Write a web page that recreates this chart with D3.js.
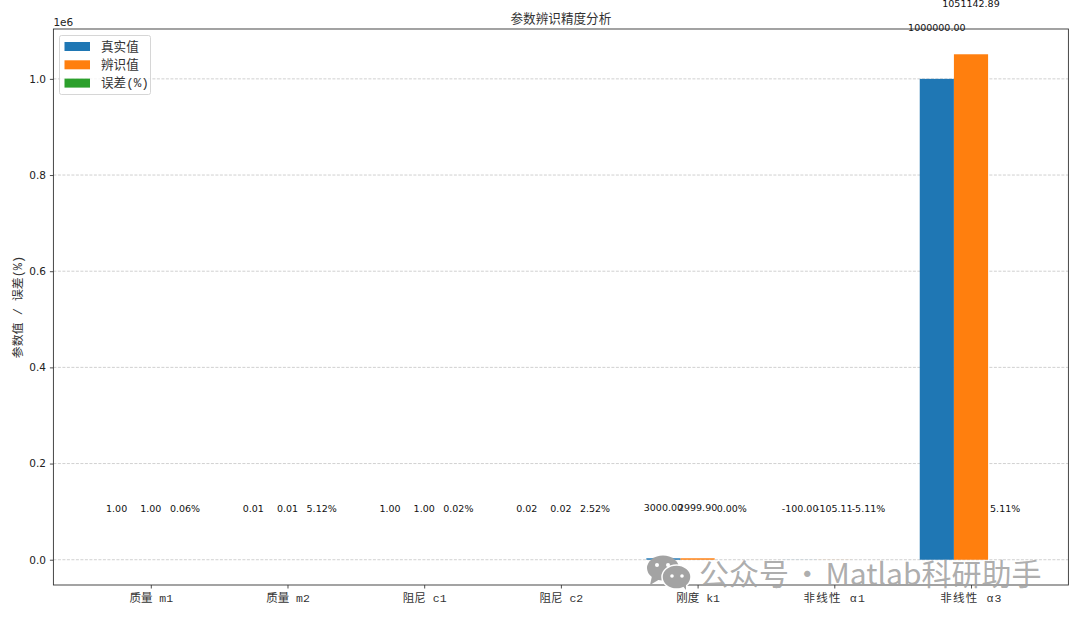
<!DOCTYPE html>
<html>
<head>
<meta charset="utf-8">
<style>
    html, body { margin: 0; padding: 0; background: #fff; overflow: hidden; }
    svg { display: block; }
    text { font-family: "DejaVu Sans", sans-serif; }
    .cjk { font-family: "Liberation Mono", "Noto Sans CJK SC", monospace; }
    .wm { font-family: "Noto Sans CJK SC", sans-serif; }
</style>
</head>
<body>
<svg id="container" width="1080" height="617"></svg>
<script src="https://d3js.org/d3.v7.min.js"></script>
<script>
const params = ["质量 m1", "质量 m2", "阻尼 c1", "阻尼 c2", "刚度 k1", "非线性 α1", "非线性 α3"]
const trueValues = [1.00, 0.01, 1.00, 0.02, 3000.00, -100.00, 1000000.00]
const estValues = [1.00, 0.01, 1.00, 0.02, 2999.90, -105.11, 1051142.89]
const errValues = [0.06, 5.12, 0.02, 2.52, 0.00, -5.11, 5.11]
const seriesNames = ["真实值", "辨识值", "误差(%)"]
const seriesColors = ["#1f77b4", "#ff7f0e", "#2ca02c"]
const yTicks = [0, 0.2e6, 0.4e6, 0.6e6, 0.8e6, 1.0e6]

const plotLeft = 53.4, plotRight = 1068.4, plotTop = 29, plotBottom = 585
const barWidth = 0.25
const maxValue = d3.max(estValues)

const svg = d3.select("#container")

let xScale = d3.scaleLinear().domain([-0.7125, 6.7125]).range([plotLeft, plotRight])
let yScale = d3.scaleLinear().domain([-0.05 * maxValue, 1.05 * maxValue]).range([plotBottom, plotTop])

// grid
svg.append("g").selectAll("line").data(yTicks).join("line")
    .attr("x1", plotLeft).attr("x2", plotRight)
    .attr("y1", d => yScale(d)).attr("y2", d => yScale(d))
    .attr("stroke", "#b0b0b0").attr("stroke-opacity", 0.75)
    .attr("stroke-width", 0.8).attr("stroke-dasharray", "3,1.5")

// bars
const allSeries = [trueValues, estValues, errValues]
allSeries.forEach((values, s) => {
    let offset = (s - 1) * barWidth
    let g = svg.append("g")
    g.selectAll("rect").data(values).join("rect")
        .attr("x", (d, i) => xScale(i + offset - barWidth / 2))
        .attr("width", xScale(barWidth) - xScale(0))
        .attr("y", d => yScale(Math.max(d, 0)))
        .attr("height", d => Math.abs(yScale(d) - yScale(0)))
        .attr("fill", seriesColors[s])
})

// axes
let xAxis = d3.axisBottom(xScale).tickValues(d3.range(params.length)).tickFormat(i => params[i]).tickSize(3.5).tickPadding(5.5)
let yAxis = d3.axisLeft(yScale).tickValues(yTicks).tickFormat(d => (d / 1e6).toFixed(1)).tickSize(3.5).tickPadding(4)
let gx = svg.append("g").attr("transform", "translate(0," + plotBottom + ")").call(xAxis)
let gy = svg.append("g").attr("transform", "translate(" + plotLeft + ",0)").call(yAxis)
gx.select("path.domain").remove()
gy.select("path.domain").remove()
gx.selectAll("text").attr("class", "cjk").style("font-size", "11.5px").style("fill", "#333")
    .style("letter-spacing", (d, i) => params[i].includes("α") ? "1.2px" : null)
gy.selectAll("text").style("font-size", "10.5px").style("fill", "#222")
svg.selectAll("g.tick line").attr("stroke", "#222").attr("stroke-width", 0.8)

// frame
svg.append("rect").attr("x", plotLeft).attr("y", plotTop).attr("width", plotRight - plotLeft).attr("height", plotBottom - plotTop)
    .attr("fill", "none").attr("stroke", "#333").attr("stroke-width", 0.9)

// value labels
allSeries.forEach((values, s) => {
    let offset = (s - 1) * barWidth
    svg.append("g").selectAll("text").data(values).join("text")
        .attr("x", (d, i) => xScale(i + offset))
        .attr("y", d => yScale(d + 0.1 * maxValue))
        .attr("dy", 3)
        .attr("text-anchor", "middle")
        .style("font-size", "9.5px").style("fill", "#111")
        .text(d => s == 2 ? d.toFixed(2) + "%" : d.toFixed(2))
})

// title etc
svg.append("text").attr("class", "cjk").attr("x", (plotLeft + plotRight) / 2).attr("y", 22.5)
    .attr("text-anchor", "middle").style("font-size", "12.6px").style("fill", "#333").text("参数辨识精度分析")
svg.append("text").attr("x", plotLeft).attr("y", 26).style("font-size", "10.5px").style("fill", "#222").text("1e6")
svg.append("text").attr("class", "cjk").attr("transform", "translate(22," + (plotTop + plotBottom) / 2 + ") rotate(-90)")
    .attr("text-anchor", "middle").style("font-size", "11.9px").style("fill", "#333").text("参数值 / 误差(%)")

// legend
let legend = svg.append("g")
legend.append("rect").attr("x", 59.5).attr("y", 35.5).attr("width", 91).attr("height", 59).attr("rx", 2)
    .attr("fill", "#fff").attr("fill-opacity", 0.8).attr("stroke", "#ccc").attr("stroke-width", 0.8)
seriesNames.forEach((name, i) => {
    let y = 42 + i * 18.3
    legend.append("rect").attr("x", 64.5).attr("y", y).attr("width", 25.5).attr("height", 9).attr("fill", seriesColors[i])
    legend.append("text").attr("class", "cjk").attr("x", 101).attr("y", y + 8.5).style("font-size", "12.6px").style("fill", "#333").text(name)
})

// watermark
let mark = svg.append("g").attr("fill", "#a3a3a3")
mark.append("ellipse").attr("cx", 663).attr("cy", 568).attr("rx", 16).attr("ry", 12.5)
mark.append("path").attr("d", "M652,576 L650,585 L660,579 Z")
mark.append("ellipse").attr("cx", 676.5).attr("cy", 577).attr("rx", 14.5).attr("ry", 12).attr("stroke", "#fff").attr("stroke-width", 1.5)
mark.append("path").attr("d", "M682,585 L686,590 L686,582 Z")
let eyes = [[657, 565, 2], [668, 565, 2], [672, 576, 1.8], [682, 576, 1.8]]
mark.selectAll("circle").data(eyes).join("circle")
    .attr("cx", d => d[0]).attr("cy", d => d[1]).attr("r", d => d[2]).attr("fill", "#fff")
svg.append("text").attr("class", "wm").attr("x", 699).attr("y", 585)
    .style("font-size", "30px").style("word-spacing", "-3.5px").style("fill", "#a3a3a3").style("fill-opacity", 0.9).text("公众号 · Matlab科研助手")
</script>
</body>
</html>
